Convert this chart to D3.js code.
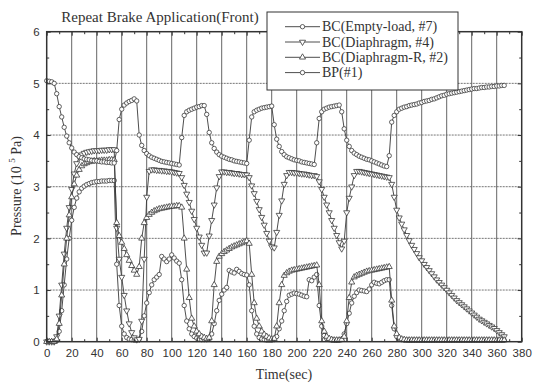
<!DOCTYPE html>
<html><head><meta charset="utf-8">
<script src="https://cdn.jsdelivr.net/npm/d3@7"></script>
<style>body{margin:0;background:#fff}svg{display:block}</style>
</head><body><svg id="c" width="533" height="385"></svg>
<script>
const time = [
0,2,4,6,8,10,12,14,16,18,20,22,24,26,28,30,32,34,36,38,
40,42,44,46,48,50,52,54,56,58,60,62,64,66,68,70,72,74,76,78,
80,82,84,86,88,90,92,94,96,98,100,102,104,106,108,110,112,114,116,118,
120,122,124,126,128,130,132,134,136,138,140,142,144,146,148,150,152,154,156,158,
160,162,164,166,168,170,172,174,176,178,180,182,184,186,188,190,192,194,196,198,
200,202,204,206,208,210,212,214,216,218,220,222,224,226,228,230,232,234,236,238,
240,242,244,246,248,250,252,254,256,258,260,262,264,266,268,270,272,274,276,278,
280,282,284,286,288,290,292,294,296,298,300,302,304,306,308,310,312,314,316,318,
320,322,324,326,328,330,332,334,336,338,340,342,344,346,348,350,352,354,356,358,
360,362,364,366];

const bcEmptyLoad = [
0,0,0,0,0.02,0.2,0.6,1.1,1.6,2.0,
2.35,2.6,2.78,2.9,2.97,3.01,3.04,3.06,3.08,3.09,
3.1,3.1,3.11,3.11,3.11,3.12,3.12,3.12,1.5,0.7,
0.3,0.15,0.08,0.05,0.04,0.03,0.03,0.05,0.2,0.5,
0.75,0.95,1.1,1.2,1.25,1.3,1.65,1.6,1.55,1.6,
1.68,1.62,1.56,1.52,1.2,0.7,0.4,0.25,0.15,0.1,
0.07,0.05,0.04,0.04,0.04,0.05,0.15,0.35,0.6,0.8,
0.92,1.0,1.05,1.38,1.35,1.33,1.4,1.36,1.32,1.3,
1.29,1.1,0.6,0.3,0.15,0.08,0.05,0.04,0.03,0.03,
0.03,0.04,0.1,0.25,0.4,0.6,0.78,0.9,0.92,0.94,
0.93,0.92,0.9,0.88,0.87,1.2,1.18,1.25,1.3,0.7,
0.3,0.12,0.06,0.04,0.03,0.03,0.03,0.03,0.05,0.15,
0.35,0.55,0.75,0.88,0.95,1.0,0.99,0.98,0.97,1.02,
1.1,1.15,1.13,1.12,1.15,1.18,1.2,1.2,0.7,0.25,
0.1,0.05,0.04,0.03,0.03,0.03,0.03,0.03,0.03,0.03,
0.03,0.03,0.03,0.03,0.03,0.03,0.03,0.03,0.03,0.03,
0.03,0.03,0.03,0.03,0.03,0.03,0.03,0.03,0.03,0.03,
0.03,0.03,0.03,0.03,0.03,0.03,0.03,0.03,0.03,0.03,
0.03,0.03,0.03,0.03];

const bcDiaphragm = [
0,0,0,0,0.1,0.5,1.1,1.7,2.2,2.6,
2.95,3.25,3.45,3.57,3.62,3.65,3.67,3.68,3.69,3.7,
3.7,3.7,3.71,3.71,3.71,3.72,3.72,3.72,2.2,1.6,
1.25,0.9,0.6,0.35,0.18,0.08,0.04,0.05,0.4,1.6,
2.8,3.3,3.33,3.33,3.32,3.32,3.31,3.31,3.3,3.3,
3.29,3.28,3.27,3.26,3.18,3.03,2.86,2.7,2.53,2.37,
2.2,2.03,1.87,1.72,1.72,2.05,2.35,2.65,2.98,3.2,
3.29,3.29,3.28,3.28,3.27,3.26,3.26,3.25,3.24,3.24,
3.23,3.18,3.02,2.87,2.72,2.56,2.41,2.26,2.1,1.95,
1.84,1.82,2.12,2.45,2.73,3.05,3.22,3.28,3.28,3.27,
3.27,3.26,3.25,3.25,3.24,3.23,3.22,3.22,3.2,3.1,
2.95,2.8,2.65,2.5,2.35,2.2,2.06,1.92,1.8,1.95,
2.5,2.78,3.0,3.22,3.3,3.3,3.29,3.28,3.27,3.26,
3.25,3.24,3.23,3.22,3.21,3.2,3.19,3.18,3.05,2.8,
2.55,2.4,2.28,2.17,2.06,1.96,1.87,1.79,1.71,1.63,
1.57,1.5,1.44,1.38,1.32,1.26,1.2,1.15,1.1,1.05,
1.0,0.95,0.9,0.85,0.8,0.76,0.72,0.68,0.64,0.6,
0.56,0.52,0.48,0.44,0.41,0.38,0.35,0.32,0.29,0.26,
0.22,0.18,0.14,0.1];

const bcDiaphragmR = [
0,0,0,0,0.05,0.35,0.9,1.5,2.0,2.45,
2.8,3.05,3.22,3.33,3.4,3.44,3.46,3.48,3.49,3.5,
3.5,3.5,3.51,3.51,3.51,3.52,3.52,3.52,2.3,2.05,
1.92,1.8,1.68,1.57,1.47,1.38,1.3,1.45,2.0,2.3,
2.4,2.46,2.5,2.53,2.55,2.57,2.58,2.59,2.6,2.61,
2.62,2.62,2.63,2.63,2.6,2.0,1.4,0.85,0.45,0.3,
0.2,0.15,0.1,0.08,0.06,0.08,0.4,1.1,1.55,1.65,
1.7,1.74,1.77,1.8,1.83,1.85,1.87,1.89,1.91,1.93,
1.95,1.9,1.3,0.75,0.45,0.3,0.2,0.14,0.1,0.07,
0.05,0.06,0.3,0.75,1.1,1.28,1.33,1.36,1.38,1.39,
1.4,1.41,1.42,1.43,1.44,1.45,1.46,1.47,1.48,1.1,
0.4,0.2,0.1,0.06,0.04,0.03,0.03,0.03,0.04,0.1,
0.4,0.85,1.15,1.25,1.28,1.3,1.32,1.34,1.36,1.37,
1.38,1.39,1.4,1.41,1.42,1.43,1.44,1.45,0.8,0.3,
0.15,0.08,0.05,0.04,0.03,0.03,0.03,0.03,0.03,0.03,
0.03,0.03,0.03,0.03,0.03,0.03,0.03,0.03,0.03,0.03,
0.03,0.03,0.03,0.03,0.03,0.03,0.03,0.03,0.03,0.03,
0.03,0.03,0.03,0.03,0.03,0.03,0.03,0.03,0.03,0.03,
0.03,0.03,0.03,0.03];

const bp = [
5.05,5.04,5.03,5.0,4.8,4.55,4.35,4.15,3.98,3.85,
3.75,3.67,3.62,3.58,3.56,3.54,3.53,3.52,3.51,3.5,
3.5,3.49,3.48,3.48,3.47,3.47,3.46,3.46,3.7,4.3,
4.5,4.58,4.62,4.65,4.67,4.7,4.66,4.0,3.8,3.7,
3.64,3.6,3.57,3.55,3.53,3.51,3.49,3.48,3.47,3.46,
3.45,3.44,3.43,3.42,3.95,4.38,4.45,4.48,4.5,4.52,
4.54,4.55,4.57,4.57,4.4,4.05,3.85,3.74,3.67,3.62,
3.59,3.57,3.55,3.53,3.52,3.5,3.49,3.48,3.47,3.46,
3.45,3.9,4.35,4.45,4.48,4.5,4.52,4.53,4.54,4.55,
4.56,4.2,3.92,3.78,3.68,3.62,3.58,3.56,3.54,3.52,
3.51,3.5,3.48,3.47,3.46,3.45,3.44,3.43,3.85,4.32,
4.45,4.5,4.52,4.54,4.55,4.56,4.57,4.58,4.45,4.12,
3.9,3.78,3.7,3.65,3.62,3.59,3.57,3.55,3.53,3.52,
3.5,3.48,3.46,3.44,3.42,3.4,3.39,3.6,4.25,4.38,
4.45,4.5,4.52,4.54,4.55,4.57,4.58,4.59,4.6,4.62,
4.63,4.65,4.66,4.67,4.69,4.7,4.72,4.74,4.76,4.77,
4.79,4.8,4.81,4.82,4.83,4.84,4.85,4.86,4.87,4.88,
4.89,4.9,4.9,4.91,4.92,4.92,4.93,4.93,4.94,4.94,
4.95,4.95,4.96,4.96];

const seriesNames = ["BC(Empty-load, #7)", "BC(Diaphragm, #4)", "BC(Diaphragm-R, #2)", "BP(#1)"];
const seriesShapes = ["circle", "triDown", "triUp", "circle"];
const xTicks = [0,20,40,60,80,100,120,140,160,180,200,220,240,260,280,300,320,340,360,380];
const yTicks = [0,1,2,3,4,5,6];
const xMinor = [10,30,50,70,90,110,130,150,170,190,210,230,250,270,290,310,330,350,370];
const yMinor = [0.5,1.5,2.5,3.5,4.5,5.5];

const svg = d3.select("#c");
const L = 46.7, R = 521.7, T = 31.7, B = 341.7;
const x = d3.scaleLinear().domain([0, 380]).range([L, R]);
const y = d3.scaleLinear().domain([0, 6]).range([B, T]);
const ink = "#3a3a3a";

// grid
svg.append("g").selectAll("line").data(xTicks.slice(1, -1)).join("line")
  .attr("x1", d => x(d)).attr("x2", d => x(d)).attr("y1", T).attr("y2", B)
  .attr("stroke", "#555").attr("stroke-width", 0.9);
svg.append("g").selectAll("line").data(yTicks.slice(1, -1)).join("line")
  .attr("x1", L).attr("x2", R).attr("y1", d => y(d)).attr("y2", d => y(d))
  .attr("stroke", "#666").attr("stroke-width", 0.9).attr("stroke-dasharray", "2,1");

// series
const allSeries = [bcEmptyLoad, bcDiaphragm, bcDiaphragmR, bp];
const line = d3.line().x((d, i) => x(time[i])).y(d => y(d));
const symTri = d3.symbol().type(d3.symbolTriangle).size(16);
function drawMarker(g, shape, cx, cy) {
  if (shape === "circle") {
    g.append("circle").attr("cx", cx).attr("cy", cy).attr("r", 2.2)
      .attr("fill", "#fff").attr("stroke", ink).attr("stroke-width", 0.8);
  } else {
    g.append("path").attr("d", symTri())
      .attr("transform", `translate(${cx},${cy})` + (shape === "triDown" ? " rotate(180)" : ""))
      .attr("fill", "#fff").attr("stroke", ink).attr("stroke-width", 0.8);
  }
}
allSeries.forEach((vals, si) => {
  const g = svg.append("g");
  g.append("path").datum(vals).attr("d", line).attr("fill", "none")
    .attr("stroke", ink).attr("stroke-width", 0.9);
  vals.forEach((v, i) => drawMarker(g, seriesShapes[si], x(time[i]), y(v)));
});

// axes
const fTick = "'Liberation Sans', Arial, sans-serif";
const gx = svg.append("g").attr("transform", `translate(0,${B})`)
  .call(d3.axisBottom(x).tickValues(xTicks).tickSize(-4).tickPadding(7).tickFormat(d3.format("d")));
const gxm = svg.append("g").attr("transform", `translate(0,${B})`)
  .call(d3.axisBottom(x).tickValues(xMinor).tickSize(-2.5).tickFormat(""));
const gxt = svg.append("g").attr("transform", `translate(0,${T})`)
  .call(d3.axisTop(x).tickValues(xTicks).tickSize(-4).tickFormat(""));
const gxtm = svg.append("g").attr("transform", `translate(0,${T})`)
  .call(d3.axisTop(x).tickValues(xMinor).tickSize(-2.5).tickFormat(""));
const gy = svg.append("g").attr("transform", `translate(${L},0)`)
  .call(d3.axisLeft(y).tickValues(yTicks).tickSize(-4).tickPadding(7).tickFormat(d3.format("d")));
const gym = svg.append("g").attr("transform", `translate(${L},0)`)
  .call(d3.axisLeft(y).tickValues(yMinor).tickSize(-2.5).tickFormat(""));
const gyr = svg.append("g").attr("transform", `translate(${R},0)`)
  .call(d3.axisRight(y).tickValues(yTicks).tickSize(-4).tickFormat(""));
const gyrm = svg.append("g").attr("transform", `translate(${R},0)`)
  .call(d3.axisRight(y).tickValues(yMinor).tickSize(-2.5).tickFormat(""));
[gx, gxm, gxt, gxtm, gy, gym, gyr, gyrm].forEach(g => {
  g.select(".domain").remove();
  g.selectAll("line").attr("stroke", "#333").attr("stroke-width", 1);
  g.selectAll("text").attr("font-family", fTick).attr("font-size", 11.5).attr("fill", "#333");
});

// frame
svg.append("rect").attr("x", L).attr("y", T).attr("width", R - L).attr("height", B - T)
  .attr("fill", "none").attr("stroke", "#333").attr("stroke-width", 1.5);

// titles
const fSerif = "'Liberation Serif', 'Times New Roman', serif";
svg.append("text").attr("x", 160).attr("y", 21.5).attr("text-anchor", "middle")
  .attr("font-family", fSerif).attr("font-size", 15).attr("fill", "#333")
  .text("Repeat Brake Application(Front)");
svg.append("text").attr("x", 284).attr("y", 379).attr("text-anchor", "middle")
  .attr("font-family", fSerif).attr("font-size", 14).attr("fill", "#333")
  .text("Time(sec)");
const yl = svg.append("text").attr("transform", "translate(21,186) rotate(-90)")
  .attr("text-anchor", "middle").attr("font-family", fSerif).attr("font-size", 14).attr("fill", "#333");
yl.append("tspan").text("Pressure (10 ");
yl.append("tspan").attr("font-size", 9).attr("dy", -6).text("5");
yl.append("tspan").attr("dy", 6).text(" Pa)");

// legend
const lg = svg.append("g");
lg.append("rect").attr("x", 267).attr("y", 12).attr("width", 191).attr("height", 78)
  .attr("fill", "#fff").attr("stroke", "#333").attr("stroke-width", 1);
const rowsY = [26.7, 42, 57.3, 72.6];
seriesNames.forEach((name, i) => {
  lg.append("line").attr("x1", 285).attr("x2", 320).attr("y1", rowsY[i]).attr("y2", rowsY[i])
    .attr("stroke", ink).attr("stroke-width", 0.9);
  drawMarker(lg, seriesShapes[i], 302.5, rowsY[i]);
  lg.append("text").attr("x", 322).attr("y", rowsY[i] + 4.5)
    .attr("font-family", fSerif).attr("font-size", 14).attr("fill", "#333").text(name);
});
</script></body></html>
